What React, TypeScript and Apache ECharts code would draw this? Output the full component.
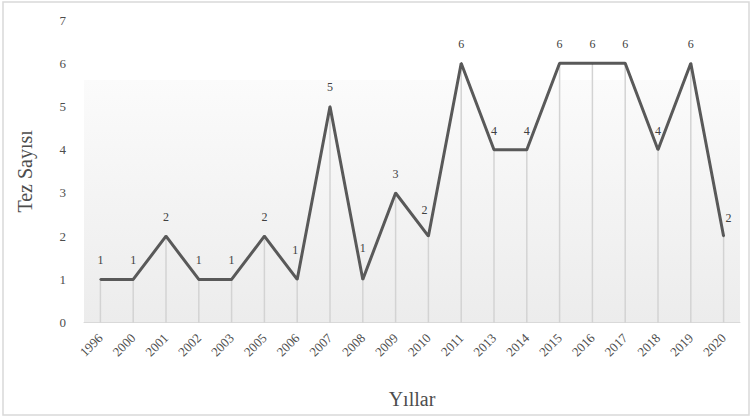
import React, { useEffect, useRef } from "react";
import * as echarts from "echarts";

// Number of theses per year
const years = [
  "1996", "2000", "2001", "2002", "2003", "2005", "2006", "2007", "2008", "2009",
  "2010", "2011", "2013", "2014", "2015", "2016", "2017", "2018", "2019", "2020",
];
const thesisCounts = [1, 1, 2, 1, 1, 2, 1, 5, 1, 3, 2, 6, 4, 4, 6, 6, 6, 4, 6, 2];
const yMin = 0;
const yMax = 7;
const yStep = 1;

const SERIF = "'Liberation Serif', 'Times New Roman', serif";

// A few value labels sit slightly off their default spot
const labelNudge: Record<string, [number, number]> = {
  "2006": [-2, -10],
  "2008": [0, -12],
  "2010": [-4, -7],
  "2020": [5, 1],
};

export default function App() {
  const ref = useRef<HTMLDivElement>(null);

  useEffect(() => {
    if (!ref.current) return;
    const chart = echarts.init(ref.current, null, { renderer: "svg" });

    const lineData = thesisCounts.map((v, i) => {
      const nudge = labelNudge[years[i]];
      return nudge ? { value: v, label: { offset: nudge } } : v;
    });

    chart.setOption({
      animation: false,
      backgroundColor: "#ffffff",
      grid: { left: 84, right: 11, top: 20, bottom: 96.3, containLabel: false },
      graphic: [
        {
          type: "rect",
          z: -20,
          silent: true,
          shape: { x: 3, y: 2, width: 746, height: 413 },
          style: { fill: "#ffffff", stroke: "#d9d9d9", lineWidth: 1.5 },
        },
        {
          type: "rect",
          z: -10,
          silent: true,
          shape: { x: 84, y: 80, width: 656, height: 242.7 },
          style: {
            fill: {
              type: "linear",
              x: 0,
              y: 0,
              x2: 0,
              y2: 1,
              colorStops: [
                { offset: 0, color: "#fbfbfb" },
                { offset: 1, color: "#ececec" },
              ],
            },
          },
        },
      ],
      xAxis: {
        type: "category",
        data: years,
        boundaryGap: true,
        axisTick: { show: false },
        axisLine: { lineStyle: { color: "#d9d9d9", width: 1 } },
        axisLabel: {
          interval: 0,
          rotate: 45,
          margin: 13,
          fontSize: 13,
          fontFamily: SERIF,
          color: "#4d4d4d",
        },
        name: "Yıllar",
        nameLocation: "middle",
        nameGap: 66,
        nameTextStyle: { fontSize: 20, fontFamily: SERIF, color: "#4d4d4d" },
      },
      yAxis: {
        type: "value",
        min: yMin,
        max: yMax,
        interval: yStep,
        splitLine: { show: false },
        axisLine: { show: false },
        axisTick: { show: false },
        axisLabel: {
          margin: 18,
          fontSize: 13,
          fontFamily: SERIF,
          color: "#4d4d4d",
        },
        name: "Tez Sayısı",
        nameLocation: "middle",
        nameRotate: 90,
        nameGap: 49,
        nameTextStyle: { fontSize: 20, fontFamily: SERIF, color: "#4d4d4d" },
      },
      series: [
        {
          // drop lines from each point to the axis
          type: "bar",
          data: thesisCounts,
          barWidth: 1.5,
          silent: true,
          z: 1,
          itemStyle: { color: "#d3d3d3" },
        },
        {
          type: "line",
          data: lineData,
          z: 3,
          symbol: "circle",
          symbolSize: 2,
          showSymbol: true,
          itemStyle: { color: "#595959" },
          lineStyle: { color: "#595959", width: 3 },
          label: {
            show: true,
            position: "top",
            distance: 12,
            fontSize: 12,
            fontFamily: SERIF,
            color: "#404040",
          },
        },
      ],
    });

    return () => chart.dispose();
  }, []);

  return (
    <div
      ref={ref}
      style={{ position: "fixed", left: 0, top: 0, width: 751, height: 419, background: "#fff" }}
    />
  );
}
